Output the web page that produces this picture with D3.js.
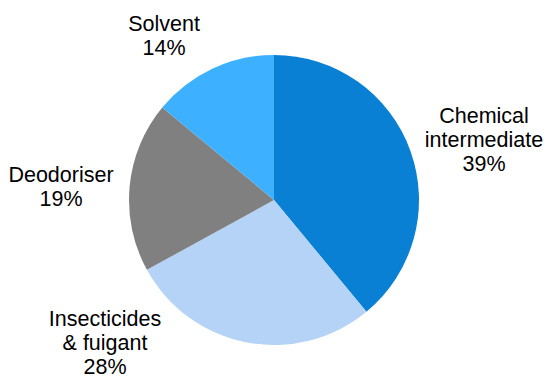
<!DOCTYPE html>
<html>
<head>
<meta charset="utf-8">
<script src="https://cdn.jsdelivr.net/npm/d3@7"></script>
<style>
  html, body { margin: 0; padding: 0; background: #fff; }
  svg { display: block; }
</style>
</head>
<body>
<svg id="chart" width="547" height="378"></svg>
<script>
// Uses by application (share of total, %)
const categories = ["Chemical intermediate", "Insecticides & fuigant", "Deodoriser", "Solvent"];
const values = [39, 28, 19, 14];
const labelLines = [["Chemical", "intermediate"], ["Insecticides", "& fuigant"], ["Deodoriser"], ["Solvent"]];
const colors = ["#0A80D4", "#B4D3F6", "#808080", "#3DB1FF"];

const svg = d3.select("#chart");
const cx = 274, cy = 200, radius = 145;

const pie = d3.pie().sort(null).value(d => d)(values);
const arc = d3.arc().innerRadius(0).outerRadius(radius);

const g = svg.append("g").attr("transform", `translate(${cx},${cy})`);
g.selectAll("path")
  .data(pie)
  .join("path")
  .attr("d", arc)
  .attr("fill", (d, i) => colors[i]);

// Label anchors (text centre, first baseline) placed beside each slice
const labelAnchor = [[484, 123], [105, 326], [61, 182], [164, 31]];
const lineH = 24;

labelLines.forEach((lines, i) => {
  const t = svg.append("text")
    .attr("x", labelAnchor[i][0])
    .attr("y", labelAnchor[i][1])
    .attr("text-anchor", "middle")
    .attr("font-family", "Liberation Sans, Arial, sans-serif")
    .attr("font-size", "21.5px")
    .attr("fill", "#000");
  const all = lines.concat([values[i] + "%"]);
  all.forEach((s, k) => {
    t.append("tspan")
      .attr("x", labelAnchor[i][0])
      .attr("dy", k === 0 ? 0 : lineH)
      .text(s);
  });
});
</script>
</body>
</html>
